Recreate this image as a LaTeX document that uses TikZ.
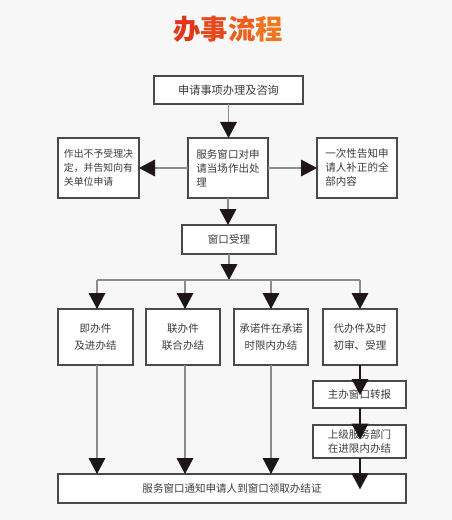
\documentclass[tikz,border=0pt]{standalone}
\usepackage{fontspec}
\newfontfamily\cjk{Noto Sans CJK SC}
\usetikzlibrary{arrows.meta}
\definecolor{bgc}{HTML}{F7F7F7}
\definecolor{boxc}{HTML}{4A4A4A}
\definecolor{txtc}{HTML}{3C3C3C}
\definecolor{linec}{HTML}{8C8C8C}
\definecolor{arrc}{HTML}{1E1616}
\definecolor{tA}{HTML}{E2361A}
\definecolor{tB}{HTML}{E6481C}
\definecolor{tC}{HTML}{EB5E1E}
\definecolor{tD}{HTML}{F07521}
\begin{document}
\begin{tikzpicture}[x=0.75pt,y=-0.75pt,
  box/.style={draw=boxc, line width=1.1pt, fill=white, inner sep=0pt, outer sep=0pt,
    text=txtc, font=\cjk\fontsize{7.9pt}{10.5pt}\selectfont, align=center},
  conn/.style={draw=linec, line width=0.8pt, -{Triangle[width=12.5pt,length=12pt,color=arrc]}},
  darkconn/.style={conn, draw=arrc},
  plain/.style={draw=linec, line width=0.8pt},
  title/.style={font=\cjk\bfseries\fontsize{20.5pt}{24pt}\selectfont}]
\useasboundingbox (0,0) rectangle (452,520);
\fill[bgc] (0,0) rectangle (452,520);

\node[title] (t) at (228,29) {\textcolor{tA}{办}\textcolor{tB}{事}\textcolor{tC}{流}\textcolor{tD}{程}};

\node[box, minimum width=111.75pt, minimum height=21pt, font=\cjk\fontsize{8.4pt}{10.5pt}\selectfont] (b1) at (228.5,90) {申请事项办理及咨询};
\node[box, minimum width=60pt, minimum height=45pt, align=left] (mid) at (228,168) {服务窗口对申\\请当场作出处\\理};
\node[box, minimum width=60.75pt, minimum height=45pt, align=left, font=\cjk\fontsize{7.4pt}{10.5pt}\selectfont] (left) at (98.5,168) {作出不予受理决\\定，并告知向有\\关单位申请};
\node[box, minimum width=60pt, minimum height=45pt, align=left] (right) at (357,168) {一次性告知申\\请人补正的全\\部内容};
\node[box, minimum width=70.5pt, minimum height=21.75pt] (win) at (229,239.5) {窗口受理};

\node[box, minimum width=56.25pt, minimum height=42pt, font=\cjk\fontsize{7.9pt}{12.75pt}\selectfont] (c1) at (95.5,337) {即办件\\及进办结};
\node[box, minimum width=55.5pt, minimum height=42pt, font=\cjk\fontsize{7.9pt}{12.75pt}\selectfont] (c2) at (183,337) {联办件\\联合办结};
\node[box, minimum width=55.5pt, minimum height=42pt, font=\cjk\fontsize{7.9pt}{12.75pt}\selectfont] (c3) at (271,337) {承诺件在承诺\\时限内办结};
\node[box, minimum width=55.5pt, minimum height=42pt, font=\cjk\fontsize{7.9pt}{12.75pt}\selectfont] (c4) at (360,337) {代办件及时\\初审、受理};

\node[box, minimum width=69.75pt, minimum height=20.25pt] (z1) at (359.5,394.5) {主办窗口转报};
\node[box, minimum width=69.75pt, minimum height=24.75pt] (z2) at (359.5,441.5) {上级服务部门\\在进限内办结};
\node[box, minimum width=261pt, minimum height=21.75pt] (bot) at (232,488.5) {服务窗口通知申请人到窗口领取办结证};

\coordinate (hub) at (229,280);
\coordinate (d1) at (97,280);
\coordinate (d2) at (185,280);
\coordinate (d3) at (271,280);
\coordinate (d4) at (360,280);

\draw[conn] (b1.south) -- (b1.south |- mid.north);
\draw[conn] (mid.west) -- (left.east);
\draw[conn] (mid.east) -- (right.west);
\draw[conn] (mid.south) -- (mid.south |- win.north);
\draw[conn] (win.south) -- (hub);
\draw[plain] (d1) -- (d4);
\draw[conn] (d1) -- (d1 |- c1.north);
\draw[conn] (d2) -- (d2 |- c2.north);
\draw[conn] (d3) -- (d3 |- c3.north);
\draw[conn] (d4) -- (d4 |- c4.north);
\draw[conn] (d1 |- c1.south) -- (d1 |- bot.north);
\draw[conn] (d2 |- c2.south) -- (d2 |- bot.north);
\draw[conn] (d3 |- c3.south) -- (d3 |- bot.north);
\draw[darkconn] (d4 |- c4.south) -- ([yshift=-10.5pt]d4 |- z1.north);
\draw[darkconn] (d4 |- z1.south) -- ([yshift=-11pt]d4 |- z2.north);
\draw[darkconn] (d4 |- z2.south) -- ([yshift=-11.5pt]d4 |- bot.north);
\end{tikzpicture}
\end{document}
